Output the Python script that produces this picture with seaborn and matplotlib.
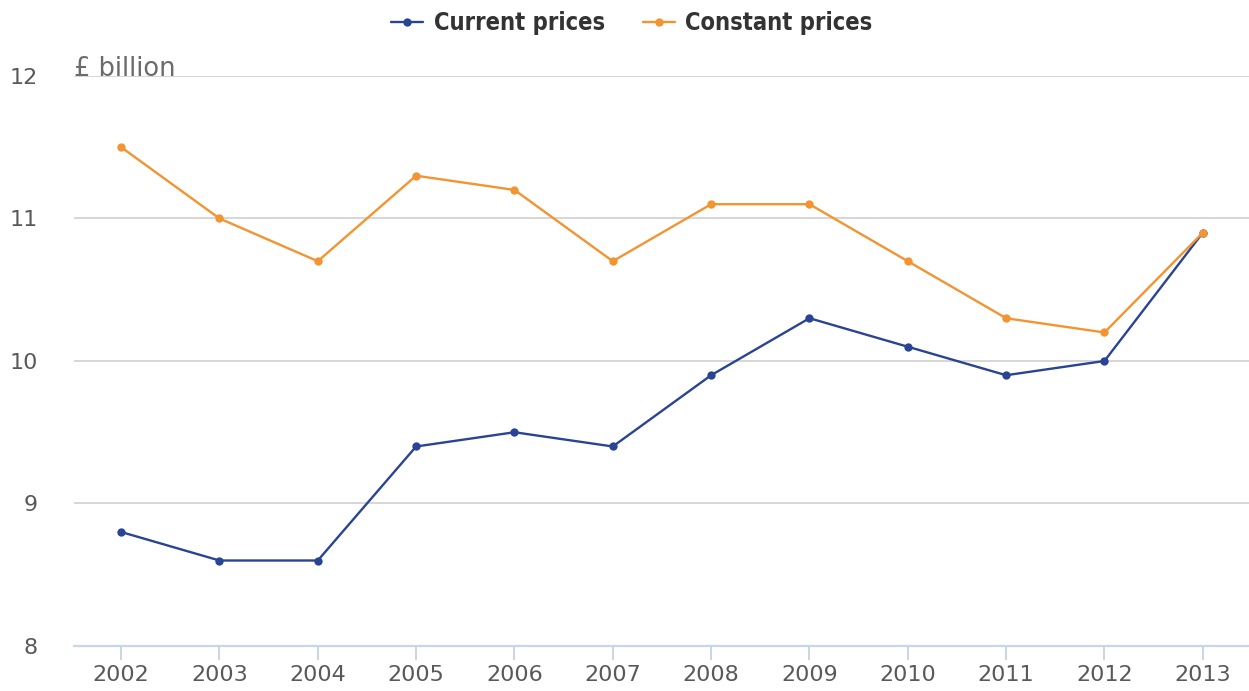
import matplotlib
matplotlib.use("Agg")
import matplotlib.pyplot as plt
import seaborn as sns
import pandas as pd

years = [2002, 2003, 2004, 2005, 2006, 2007, 2008, 2009, 2010, 2011, 2012, 2013]
current_prices = [8.8, 8.6, 8.6, 9.4, 9.5, 9.4, 9.9, 10.3, 10.1, 9.9, 10.0, 10.9]
constant_prices = [11.5, 11.0, 10.7, 11.3, 11.2, 10.7, 11.1, 11.1, 10.7, 10.3, 10.2, 10.9]
series_names = ["Current prices", "Constant prices"]
y_ticks = [8, 9, 10, 11, 12]

df = pd.DataFrame({
    "year": years * 2,
    "value": current_prices + constant_prices,
    "series": [series_names[0]] * len(years) + [series_names[1]] * len(years),
})

sns.set_theme(style="white")
plt.rcParams["font.family"] = ["DejaVu Sans"]

fig = plt.figure(figsize=(12.49, 6.91), dpi=100)
ax = fig.add_axes([0.0592, 0.0651, 0.9408, 0.825])

palette = {series_names[0]: "#2a4494", series_names[1]: "#f39431"}
sns.lineplot(data=df, x="year", y="value", hue="series", palette=palette,
             marker="o", markersize=6, markeredgewidth=0, linewidth=1.7,
             ax=ax, legend=True)

ax.set_xlim(years[0] - 0.48, years[-1] + 0.47)
ax.set_ylim(8, 12)
ax.set_yticks(y_ticks)
ax.set_xticks(years)
ax.set_xticklabels([str(y) for y in years])
ax.yaxis.grid(True, color="#d6d6d6", linewidth=1.4)
ax.xaxis.grid(False)
for s in ["top", "right", "left"]:
    ax.spines[s].set_visible(False)
ax.spines["bottom"].set_color("#c8d6e6")
ax.spines["bottom"].set_linewidth(1.6)
ax.tick_params(axis="x", which="major", bottom=True, length=10, width=1.4,
               color="#c8d6e6", labelsize=16, labelcolor="#595959", pad=4)
ax.tick_params(axis="y", left=False, labelsize=16, labelcolor="#595959", pad=26)
ax.set_xlabel("")
ax.set_ylabel("")

ax.text(0.0, 12.0, "£ billion", transform=ax.get_yaxis_transform(),
        fontsize=18.5, color="#6b6b6b", ha="left", va="baseline")

handles, labels = ax.get_legend_handles_labels()
if ax.get_legend():
    ax.get_legend().remove()
leg = fig.legend(handles, labels, loc="upper center", bbox_to_anchor=(0.506, 1.015),
                 ncol=2, frameon=False, handlelength=1.35,
                 columnspacing=1.6, handletextpad=0.45,
                 prop={"weight": "bold", "size": 17, "stretch": "condensed"})
for t in leg.get_texts():
    t.set_color("#333333")

fig.canvas.draw()
for lbl in ax.get_yticklabels():
    lbl.set_x(-0.0)
ax.yaxis.set_tick_params(pad=26 - 6)

fig.savefig("out.png", dpi=100)
